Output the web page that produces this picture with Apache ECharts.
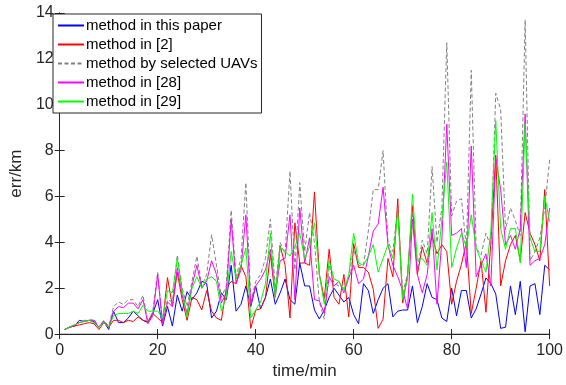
<!DOCTYPE html>
<html><head><meta charset="utf-8">
<script src="https://cdn.jsdelivr.net/npm/echarts@6/dist/echarts.min.js"></script>
<style>html,body{margin:0;padding:0;background:#fff}#c{width:566px;height:385px}</style>
</head><body><div id="c"></div>
<script>
const seriesNames = ["method in this paper","method in [2]","method by selected UAVs","method in [28]","method in [29]"];
const xTicks = [0,20,40,60,80,100];
const yTicks = [0,2,4,6,8,10,12,14];
const timeMin = Array.from({length:100},(_,i)=>i+1);
const blue = [0.2,0.3,0.35,0.6,0.55,0.6,0.55,0.3,0.55,0.2,
1.0,0.5,0.5,0.7,1.0,0.8,0.6,0.5,0.9,1.5,
0.35,1.2,0.35,1.7,1.0,1.85,1.5,1.8,2.3,2.2,
0.7,1.0,1.8,1.5,3.0,1.0,1.3,2.1,1.2,2.1,
1.1,1.6,2.4,1.3,1.8,2.4,1.5,1.3,3.1,2.1,
2.1,1.05,0.66,1.05,1.6,2.0,1.7,1.4,1.6,0.85,
0.45,2.2,1.9,0.9,1.5,2.0,2.2,0.75,1.0,1.05,
1.05,2.1,0.5,1.2,2.2,1.6,1.5,0.7,0.55,2.0,
0.8,1.9,1.9,0.7,1.1,1.75,2.45,2.2,1.75,0.25,
0.3,2.1,0.85,2.3,0.1,2.1,2.2,0.85,3.0,2.8];
const red = [0.2,0.3,0.35,0.4,0.45,0.5,0.45,0.2,0.5,0.3,
0.6,0.6,0.5,0.6,0.55,0.75,0.6,0.55,0.9,0.7,
0.5,2.46,1.2,2.7,1.5,0.6,1.6,1.5,1.05,1.9,
1.0,0.7,0.6,2.0,2.3,2.2,3.0,2.5,0.25,1.05,
1.1,1.6,3.5,1.6,3.85,3.0,0.7,4.85,3.1,3.1,
3.0,6.2,2.6,1.55,3.7,1.6,1.3,2.6,0.75,3.95,
2.9,2.9,2.7,1.95,0.25,0.65,3.3,2.5,5.9,1.35,
2.6,5.6,2.6,3.8,3.1,4.3,3.5,3.9,3.6,1.3,
2.3,3.05,4.0,0.9,2.0,3.2,0.95,4.0,7.8,2.1,
3.2,3.9,4.3,3.2,5.3,4.4,3.9,3.2,6.3,2.1];
const gray = [0.2,0.3,0.4,0.5,0.6,0.6,0.65,0.3,0.6,0.35,
1.2,1.4,1.3,1.5,1.5,1.2,1.7,0.5,1.0,2.7,
0.45,1.5,1.4,3.45,2.0,1.2,2.3,3.4,2.1,2.6,
4.33,3.0,1.6,2.1,5.4,2.5,3.3,6.6,1.4,2.3,
2.6,3.3,5.0,2.0,4.0,3.5,7.1,2.8,6.6,3.6,
5.3,4.0,1.4,0.65,3.0,2.2,2.1,2.0,2.5,3.7,
3.0,3.0,4.5,6.3,6.3,8.0,4.0,3.6,5.5,1.8,
2.6,5.2,2.8,4.1,3.5,7.3,4.0,5.5,12.7,5.15,
5.8,5.9,3.75,11.5,3.75,3.45,4.4,3.8,10.5,9.8,
4.55,5.5,4.95,4.3,13.7,3.2,3.6,4.2,5.5,7.6];
const magenta = [0.2,0.3,0.4,0.5,0.55,0.6,0.6,0.3,0.55,0.3,
1.0,1.2,1.15,1.35,1.35,1.1,1.5,0.45,0.8,2.6,
0.42,1.4,1.2,2.9,1.7,0.9,2.1,3.0,2.0,2.3,
3.2,2.6,1.35,1.8,5.0,2.2,2.8,5.2,1.3,2.1,
2.4,2.8,3.7,1.7,3.2,3.3,5.2,1.5,5.5,3.1,
4.2,1.5,1.45,0.9,2.5,2.1,2.3,1.8,2.45,3.0,
2.2,2.4,3.4,4.5,4.8,6.4,3.9,3.0,2.5,1.9,
1.1,5.0,2.6,1.8,2.6,4.6,1.3,4.1,9.15,4.3,
4.4,4.6,2.9,8.2,2.5,3.0,3.5,2.1,7.7,6.3,
3.9,4.3,3.7,4.6,9.6,3.0,3.2,3.3,3.9,5.5];
const green = [0.2,0.3,0.4,0.5,0.55,0.6,0.5,0.3,0.5,0.3,
0.8,0.9,0.9,0.9,1.0,0.9,1.25,1.0,1.0,1.0,
0.7,1.9,1.8,3.3,1.9,0.73,2.0,2.5,2.0,2.4,
2.5,2.3,1.0,1.6,3.6,2.4,3.0,3.75,0.7,1.05,
1.4,2.2,4.4,1.6,3.8,3.6,3.4,3.8,4.4,3.3,
3.8,4.85,2.6,1.3,3.2,2.4,2.3,1.9,2.6,4.4,
3.1,3.0,3.4,3.9,2.7,3.3,3.9,3.3,5.3,1.5,
2.4,6.1,3.2,3.3,3.0,5.3,2.8,5.0,7.5,2.9,
3.75,4.4,3.8,5.2,3.75,3.2,2.7,4.5,9.3,4.6,
3.7,4.6,4.6,3.1,9.2,4.2,3.6,3.6,6.0,4.9];

const values = [blue, red, gray, magenta, green];
const colors = ['#0000ff','#ff0000','#808080','#ff00ff','#00ff00'];
const dashes = ['solid','solid',[4,2.5],'solid','solid'];
const FONT = 'Liberation Sans, Arial, sans-serif';
const TXT = '#262626';

const chart = echarts.init(document.getElementById('c'), null, {renderer:'canvas'});
const tick = {inside:true,length:5,lineStyle:{color:TXT}};
chart.setOption({
  animation:false,
  backgroundColor:'#fff',
  grid:{left:53,right:16,top:13,bottom:48,show:false},
  legend:{
    orient:'vertical', left:53, top:14,
    data:seriesNames,
    backgroundColor:'#fff', borderColor:'#262626', borderWidth:1, borderRadius:0,
    padding:[2,4,2,4], itemGap:0, itemWidth:26, itemHeight:14,
    itemStyle:{color:'rgba(0,0,0,0)', borderColor:'rgba(0,0,0,0)', borderWidth:0, opacity:0},
    textStyle:{fontFamily:FONT,fontSize:15,color:'#000',lineHeight:19,padding:[0,0,0,-3]}
  },
  xAxis:[
    {type:'value', min:0, max:100, interval:20, position:'bottom',
      name:'time/min', nameLocation:'middle', nameGap:28,
      nameTextStyle:{fontFamily:FONT,fontSize:17,color:TXT},
      axisLine:{show:true,lineStyle:{color:'#c8c8c8',width:2}},
      axisTick:tick, splitLine:{show:false},
      axisLabel:{fontFamily:FONT,fontSize:16,color:TXT,margin:8}},
    {type:'value', min:0, max:100, interval:20, position:'top',
      axisLine:{show:true,lineStyle:{color:TXT,width:1}},
      axisTick:tick, splitLine:{show:false}, axisLabel:{show:false}}
  ],
  yAxis:[
    {type:'value', min:0, max:14, interval:2, position:'left',
      name:'err/km', nameLocation:'middle', nameGap:26,
      nameTextStyle:{fontFamily:FONT,fontSize:17,color:TXT},
      axisLine:{show:true,lineStyle:{color:TXT,width:1}},
      axisTick:tick, splitLine:{show:false},
      axisLabel:{fontFamily:FONT,fontSize:16,color:TXT,margin:6}},
    {type:'value', min:0, max:14, interval:2, position:'right',
      axisLine:{show:true,lineStyle:{color:TXT,width:1}},
      axisTick:tick, splitLine:{show:false}, axisLabel:{show:false}}
  ],
  series: values.map((arr,k)=>({
    name:seriesNames[k], type:'line', symbol:'none', showSymbol:false,
    xAxisIndex:0, yAxisIndex:0,
    lineStyle:{color:colors[k], width:1, type:dashes[k]},
    itemStyle:{color:colors[k]},
    data: arr.map((v,i)=>[timeMin[i], v]),
    z: 2 + k
  }))
});
</script></body></html>
